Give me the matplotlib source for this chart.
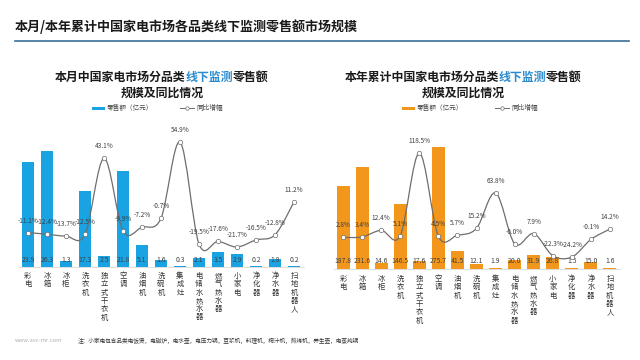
import matplotlib
matplotlib.use("Agg")
import matplotlib.pyplot as plt
from matplotlib.path import Path
from matplotlib.patches import PathPatch, Rectangle
from matplotlib.lines import Line2D
import numpy as np

plt.rcParams['font.family'] = ['Noto Sans CJK SC', 'DejaVu Sans']
plt.rcParams['axes.unicode_minus'] = False

categories = ["彩电", "冰箱", "冰柜", "洗衣机", "独立式干衣机", "空调", "油烟机", "洗碗机",
              "集成灶", "电储水热水器", "燃气热水器", "小家电", "净化器", "净水器", "扫地机器人"]
month_sales = [23.9, 26.3, 1.3, 17.3, 2.5, 21.8, 5.1, 1.6, 0.3, 2.1, 3.5, 2.9, 0.2, 1.8, 0.2]
month_yoy = [-11.1, -12.4, -13.7, -12.5, 43.1, -9.9, -7.2, -0.7, 54.9, -19.5, -17.6, -21.7, -16.5, -12.8, 11.2]
ytd_sales = [187.8, 231.6, 14.6, 146.5, 17.6, 275.7, 41.5, 12.1, 1.9, 20.0, 31.9, 26.8, 1.5, 15.0, 1.6]
ytd_yoy = [2.8, 3.4, 12.4, 5.1, 118.5, 4.5, 5.7, 15.2, 63.8, -6.0, 7.9, -22.3, -24.2, -0.1, 14.2]

main_title = "本月/本年累计中国家电市场各品类线下监测零售额市场规模"
footnote = "注：小家电包含品类电饭煲，电磁炉，电水壶，电压力锅，豆浆机，料理机，榨汁机，煎烤机，养生壶，电蒸炖锅"

W, H = 640, 360
fig = plt.figure(figsize=(6.4, 3.6), dpi=100)
fig.patch.set_facecolor("white")

def fx(px):
    return px / W

def fy(py):
    return 1 - py / H

BLUE = "#19A3E3"
ORANGE = "#F2961C"
LINEC = "#6E6E6E"
TXT = "#404040"
HIL = "#2A8BD0"

# main title
fig.text(fx(15), fy(27), main_title, fontsize=9.4, fontweight="bold", color="#1a1a1a",
         va="center", ha="left")
fig.add_artist(Line2D([fx(15), fx(629)], [fy(41), fy(41)], color="#3A6E99", lw=1.2))

fig.text(fx(15), fy(341), "www.avc-mr.com", fontsize=4.2, color="#b0b0b0", va="center", ha="left")
fig.text(fx(78), fy(341), footnote, fontsize=4.1, color="#333333", va="center", ha="left")


def smooth_path(xs, ys):
    xs = np.asarray(xs, float)
    ys = np.asarray(ys, float)
    n = len(xs)
    verts = [(xs[0], ys[0])]
    codes = [Path.MOVETO]
    for i in range(n - 1):
        p0 = (xs[max(i - 1, 0)], ys[max(i - 1, 0)])
        p1 = (xs[i], ys[i])
        p2 = (xs[i + 1], ys[i + 1])
        p3 = (xs[min(i + 2, n - 1)], ys[min(i + 2, n - 1)])
        c1 = (p1[0] + (p2[0] - p0[0]) / 6, p1[1] + (p2[1] - p0[1]) / 6)
        c2 = (p2[0] - (p3[0] - p1[0]) / 6, p2[1] - (p3[1] - p1[1]) / 6)
        verts += [c1, c2, p2]
        codes += [Path.CURVE4] * 3
    return Path(verts, codes)


def title_line(parts, cx, y, size):
    r = fig.canvas.get_renderer()
    objs = []
    widths = []
    for s, c in parts:
        t = fig.text(0, fy(y), s, fontsize=size, fontweight="bold", color=c, va="center", ha="left")
        bb = t.get_window_extent(renderer=r)
        objs.append(t)
        widths.append(bb.width)
    total = sum(widths)
    x = cx - total / 2
    for t, w in zip(objs, widths):
        t.set_x(fx(x))
        x += w


def panel(x0, x1, ybase, ytop, sales, yoy, color, bar_max, line_lo, line_hi, title1, cx,
          leg_x, leg_line_x, label_gap, cat_gap):
    ax = fig.add_axes([fx(x0), fy(ybase), fx(x1) - fx(x0), (ybase - ytop) / H])
    ax2 = ax.twinx()
    idx = np.arange(len(categories))
    ax.bar(idx, sales, width=0.68, color=color, zorder=2)
    ax.set_xlim(-0.5, len(categories) - 0.5)
    ax.set_ylim(0, bar_max)
    ax2.set_ylim(line_lo, line_hi)
    for a in (ax, ax2):
        a.set_facecolor("none")
        for s in a.spines.values():
            s.set_visible(False)
        a.set_xticks([])
        a.set_yticks([])
    ax.spines["bottom"].set_visible(True)
    ax.spines["bottom"].set_color("#d9d9d9")
    ax.spines["bottom"].set_linewidth(0.6)

    for i, v in enumerate(sales):
        ax.annotate(f"{v:.1f}", xy=(i, 0), xytext=(0, label_gap), textcoords="offset pixels",
                    ha="center", va="center", fontsize=4.9, color=TXT, zorder=5)
    for i, c in enumerate(categories):
        ax.annotate("\n".join(c), xy=(i, 0), xycoords=("data", "axes fraction"),
                    xytext=(0, -cat_gap), textcoords="offset pixels", ha="center", va="top",
                    fontsize=5.3, color="#333333", linespacing=1.05)

    p = smooth_path(idx, yoy)
    ax2.add_patch(PathPatch(p, facecolor="none", edgecolor=LINEC, lw=0.9, zorder=3))
    ax2.plot(idx, yoy, linestyle="none", marker="o", markersize=3.2, markerfacecolor="white",
             markeredgecolor=LINEC, markeredgewidth=0.5, zorder=4)
    for i, v in enumerate(yoy):
        ax2.annotate(f"{v:.1f}%", xy=(i, v), xytext=(0, 8), textcoords="offset pixels",
                     ha="center", va="bottom", fontsize=4.7, color=TXT, zorder=5)

    # titles
    title_line(title1, cx, 77, 8.6)
    title_line([("规模及同比情况", "#1a1a1a")], cx, 93, 8.6)

    # legend
    fig.add_artist(Rectangle((fx(leg_x), fy(109.5)), fx(13), 3 / H, color=color, lw=0))
    fig.text(fx(leg_x + 15), fy(108), "零售额（亿元）", fontsize=4.8, color="#444444",
             va="center", ha="left")
    fig.add_artist(Line2D([fx(leg_line_x), fx(leg_line_x + 14)], [fy(108), fy(108)],
                          color=LINEC, lw=0.7, marker=None))
    fig.add_artist(Line2D([fx(leg_line_x + 7)], [fy(108)], color=LINEC, lw=0, marker="o",
                          markersize=2.5, markerfacecolor="white", markeredgewidth=0.5))
    fig.text(fx(leg_line_x + 16), fy(108), "同比增幅", fontsize=4.8, color="#444444",
             va="center", ha="left")
    return ax


panel(18.5, 303.5, 267, 120, month_sales, month_yoy, BLUE, 147 / 4.41,
      -(267 - 217.3) / 1.37, (217.3 - 120) / 1.37,
      [("本月中国家电市场分品类", "#1a1a1a"), ("线下监测", HIL), ("零售额", "#1a1a1a")],
      162, 92, 180, 7, 5)

panel(333.5, 619.5, 269, 120, ytd_sales, ytd_yoy, ORANGE, 149 / 0.4425,
      -(269 - 239.4) / 0.729, (239.4 - 120) / 0.729,
      [("本年累计中国家电市场分品类", "#1a1a1a"), ("线下监测", HIL), ("零售额", "#1a1a1a")],
      463, 402, 495, 8, 6)

fig.savefig("out.png", dpi=100, facecolor="white")
